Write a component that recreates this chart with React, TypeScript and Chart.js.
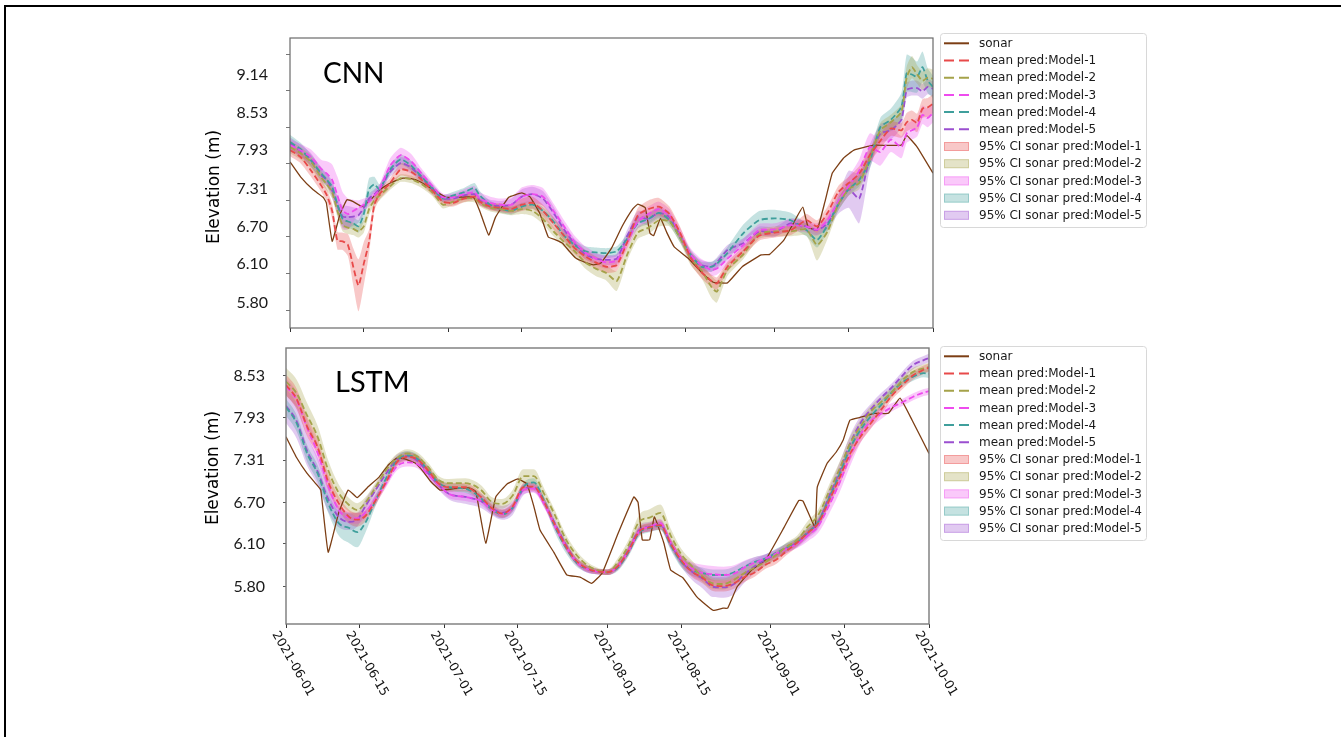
import React, { useEffect, useRef } from 'react';
import { Chart, registerables } from 'chart.js';

Chart.register(...registerables);

// ---------------- shared axis data ----------------
const xTickDays = [0, 14, 30, 44, 61, 75, 92, 106, 122];
const xTickLabels = ['2021-06-01', '2021-06-15', '2021-07-01', '2021-07-15', '2021-08-01', '2021-08-15', '2021-09-01', '2021-09-15', '2021-10-01'];

const modelNames = ['Model-1', 'Model-2', 'Model-3', 'Model-4', 'Model-5'];
const lineColors = ['#e84a4a', '#a5a24a', '#ee4bee', '#3f9f9c', '#9b4fd0'];
const bandColors = ['rgba(232,74,74,0.3)', 'rgba(165,162,74,0.3)', 'rgba(238,75,238,0.3)', 'rgba(63,159,156,0.3)', 'rgba(155,79,208,0.3)'];
const sonarColor = '#7c3e14';

// ---------------- CNN panel ----------------
const cnnTickLabels = ['9.14', '8.53', '7.93', '7.31', '6.70', '6.10', '5.80'];
const cnnTickAt = [9.14, 8.53, 7.93, 7.31, 6.70, 6.10, 5.47];
const cnnTickMarks = [9.48, 8.89, 8.30, 7.71, 7.12, 6.53, 5.94, 5.35];

const cnnDays = [
  0, 2, 4, 6, 7, 8, 9, 10, 11, 12,
  13, 14, 15, 16, 17, 19, 21, 23, 25, 27,
  29, 31, 33, 35, 36, 38, 40, 42, 44, 46,
  48, 50, 52, 54, 56, 58, 60, 62, 64, 66,
  68, 70, 72, 74, 76, 78, 80, 81, 83, 86,
  89, 92, 95, 98, 100, 102, 104, 106, 108, 110,
  112, 114, 116, 117, 118, 119, 120, 121, 122,
];
const cnnModel1 = [
  7.93, 7.82, 7.60, 7.35, 7.20, 6.95, 6.47, 6.46, 6.40, 6.05,
  5.75, 6.10, 6.45, 7.05, 7.22, 7.40, 7.62, 7.58, 7.45, 7.28,
  7.10, 7.08, 7.15, 7.18, 7.10, 7.02, 7.00, 6.98, 7.05, 7.08,
  6.95, 6.75, 6.55, 6.35, 6.22, 6.12, 6.05, 6.08, 6.45, 6.88,
  6.98, 7.02, 6.90, 6.60, 6.20, 5.97, 5.82, 5.78, 6.05, 6.30,
  6.55, 6.60, 6.64, 6.80, 6.70, 6.92, 7.25, 7.40, 7.55, 7.85,
  8.08, 8.28, 8.25, 8.38, 8.42, 8.37, 8.60, 8.62, 8.68,
];
const cnnModel2 = [
  7.98, 7.88, 7.74, 7.48, 7.38, 7.25, 6.95, 6.72, 6.68, 6.66,
  6.62, 6.70, 6.98, 7.12, 7.20, 7.35, 7.48, 7.46, 7.38, 7.25,
  7.05, 7.10, 7.15, 7.15, 7.08, 7.00, 6.98, 6.95, 6.98, 6.95,
  6.82, 6.62, 6.45, 6.30, 6.12, 6.02, 5.95, 5.82, 6.25, 6.60,
  6.68, 6.80, 6.78, 6.52, 6.18, 6.00, 5.72, 5.65, 6.00, 6.25,
  6.58, 6.62, 6.62, 6.65, 6.40, 6.62, 7.05, 7.30, 7.40, 7.80,
  8.25, 8.38, 8.55, 9.10, 9.27, 9.15, 9.05, 9.10, 9.08,
];
const cnnModel3 = [
  8.01, 7.93, 7.82, 7.62, 7.55, 7.45, 7.20, 6.95, 6.90, 6.95,
  7.00, 7.05, 7.10, 7.20, 7.30, 7.68, 7.85, 7.75, 7.55, 7.35,
  7.17, 7.17, 7.22, 7.25, 7.15, 7.08, 7.05, 7.05, 7.18, 7.22,
  7.18, 6.95, 6.70, 6.45, 6.28, 6.18, 6.12, 6.15, 6.45, 6.78,
  6.90, 6.98, 6.88, 6.58, 6.25, 6.08, 6.00, 6.02, 6.18, 6.40,
  6.64, 6.65, 6.72, 6.70, 6.65, 6.80, 7.10, 7.35, 7.60, 7.98,
  7.90, 8.10, 7.98, 8.20, 8.25, 8.30, 8.50, 8.45, 8.53,
];
const cnnModel4 = [
  8.06, 7.95, 7.76, 7.55, 7.45, 7.34, 7.05, 6.82, 6.78, 6.75,
  6.70, 6.90, 7.30, 7.38, 7.30, 7.62, 7.78, 7.68, 7.50, 7.32,
  7.15, 7.20, 7.25, 7.32, 7.20, 7.05, 6.98, 6.95, 7.02, 7.05,
  6.95, 6.78, 6.55, 6.40, 6.30, 6.28, 6.27, 6.30, 6.50, 6.75,
  6.82, 6.92, 6.80, 6.52, 6.25, 6.05, 6.05, 6.10, 6.27, 6.59,
  6.80, 6.83, 6.80, 6.64, 6.48, 6.72, 7.05, 7.30, 7.45, 7.75,
  8.30, 8.42, 8.63, 9.17, 9.15, 9.11, 9.27, 9.05, 8.95,
];
const cnnModel5 = [
  8.04, 7.92, 7.78, 7.52, 7.45, 7.28, 7.05, 6.86, 6.85, 6.86,
  6.88, 7.00, 7.15, 7.22, 7.30, 7.58, 7.72, 7.65, 7.48, 7.30,
  7.15, 7.15, 7.20, 7.22, 7.12, 7.05, 7.03, 7.05, 7.18, 7.22,
  7.15, 6.92, 6.65, 6.42, 6.25, 6.18, 6.16, 6.18, 6.55, 6.85,
  6.82, 6.92, 6.85, 6.55, 6.22, 6.08, 6.05, 6.12, 6.32, 6.43,
  6.62, 6.61, 6.75, 6.70, 6.64, 6.75, 7.05, 7.30, 7.15, 7.82,
  8.20, 8.25, 8.42, 8.90, 8.93, 8.93, 8.88, 8.95, 8.92,
];
const cnnCi1 = [
  0.10, 0.10, 0.10, 0.10, 0.10, 0.12, 0.14, 0.14, 0.18, 0.30,
  0.42, 0.35, 0.20, 0.10, 0.08, 0.08, 0.10, 0.10, 0.08, 0.07,
  0.06, 0.06, 0.06, 0.06, 0.06, 0.06, 0.07, 0.07, 0.10, 0.10,
  0.10, 0.10, 0.10, 0.10, 0.10, 0.10, 0.10, 0.10, 0.10, 0.12,
  0.14, 0.14, 0.12, 0.10, 0.10, 0.10, 0.10, 0.10, 0.08, 0.08,
  0.08, 0.08, 0.08, 0.10, 0.10, 0.10, 0.10, 0.10, 0.12, 0.12,
  0.12, 0.12, 0.12, 0.15, 0.15, 0.15, 0.15, 0.15, 0.15,
];
const cnnCi2 = [
  0.10, 0.10, 0.10, 0.10, 0.10, 0.10, 0.10, 0.10, 0.10, 0.10,
  0.10, 0.10, 0.10, 0.08, 0.08, 0.06, 0.06, 0.06, 0.06, 0.06,
  0.06, 0.06, 0.06, 0.06, 0.06, 0.06, 0.07, 0.07, 0.08, 0.08,
  0.08, 0.08, 0.08, 0.08, 0.10, 0.12, 0.12, 0.16, 0.10, 0.10,
  0.10, 0.10, 0.08, 0.08, 0.10, 0.12, 0.18, 0.18, 0.10, 0.08,
  0.08, 0.08, 0.08, 0.10, 0.25, 0.12, 0.10, 0.10, 0.10, 0.12,
  0.12, 0.12, 0.12, 0.18, 0.18, 0.15, 0.15, 0.15, 0.15,
];
const cnnCi3 = [
  0.10, 0.10, 0.12, 0.15, 0.20, 0.25, 0.30, 0.30, 0.25, 0.18,
  0.12, 0.10, 0.08, 0.08, 0.08, 0.12, 0.12, 0.12, 0.08, 0.07,
  0.06, 0.06, 0.08, 0.10, 0.10, 0.10, 0.10, 0.12, 0.15, 0.15,
  0.14, 0.12, 0.10, 0.10, 0.10, 0.10, 0.10, 0.10, 0.10, 0.12,
  0.12, 0.12, 0.10, 0.10, 0.10, 0.10, 0.10, 0.10, 0.10, 0.10,
  0.10, 0.10, 0.10, 0.10, 0.10, 0.10, 0.12, 0.15, 0.18, 0.22,
  0.22, 0.20, 0.18, 0.15, 0.15, 0.15, 0.15, 0.15, 0.15,
];
const cnnCi4 = [
  0.12, 0.10, 0.10, 0.10, 0.10, 0.10, 0.10, 0.10, 0.10, 0.10,
  0.10, 0.12, 0.18, 0.12, 0.08, 0.08, 0.08, 0.08, 0.08, 0.07,
  0.06, 0.06, 0.07, 0.08, 0.07, 0.06, 0.06, 0.06, 0.06, 0.06,
  0.06, 0.06, 0.07, 0.08, 0.08, 0.08, 0.08, 0.08, 0.08, 0.08,
  0.08, 0.08, 0.08, 0.08, 0.08, 0.08, 0.08, 0.08, 0.10, 0.14,
  0.15, 0.14, 0.12, 0.10, 0.12, 0.10, 0.10, 0.10, 0.10, 0.12,
  0.15, 0.18, 0.22, 0.30, 0.28, 0.25, 0.25, 0.20, 0.18,
];
const cnnCi5 = [
  0.10, 0.10, 0.10, 0.10, 0.10, 0.12, 0.15, 0.18, 0.18, 0.15,
  0.12, 0.10, 0.08, 0.08, 0.08, 0.08, 0.10, 0.10, 0.08, 0.07,
  0.06, 0.06, 0.07, 0.08, 0.08, 0.08, 0.08, 0.10, 0.12, 0.12,
  0.12, 0.10, 0.08, 0.08, 0.08, 0.08, 0.08, 0.08, 0.10, 0.10,
  0.10, 0.10, 0.08, 0.08, 0.08, 0.08, 0.08, 0.08, 0.08, 0.08,
  0.08, 0.08, 0.08, 0.08, 0.08, 0.10, 0.15, 0.30, 0.40, 0.20,
  0.15, 0.15, 0.12, 0.12, 0.12, 0.12, 0.12, 0.12, 0.12,
];
const cnnSonarDays = [
  0, 2, 4.4, 6.3, 6.9, 8.0, 9.5, 10.8, 12, 13.7,
  15.5, 17, 19, 21.4, 23, 24.7, 27, 29.6, 32, 34.8,
  36, 37.7, 39, 41.5, 44, 45.5, 47.4, 49, 50.5, 51.7,
  53, 54.2, 56, 57.6, 59, 61, 63, 65, 66, 67.4,
  68.3, 69, 70.3, 71.5, 72.9, 75.5, 78.2, 80.3, 83, 85.8,
  89.4, 91, 93.7, 95.5, 97.3, 98.3, 100, 101.5, 102.9, 105,
  107, 110.8, 116, 117, 119, 122,
];
const cnnSonar = [
  7.74, 7.50, 7.29, 7.17, 7.08, 6.46, 6.90, 7.13, 7.10, 7.02,
  7.15, 7.29, 7.40, 7.48, 7.47, 7.42, 7.30, 7.17, 7.17, 7.17,
  6.95, 6.56, 6.85, 7.17, 7.24, 7.18, 6.91, 6.53, 6.48, 6.43,
  6.30, 6.19, 6.12, 6.08, 6.11, 6.35, 6.70, 6.98, 7.06, 7.00,
  6.59, 6.55, 6.83, 6.60, 6.37, 6.19, 5.95, 5.80, 5.79, 6.05,
  6.24, 6.25, 6.48, 6.75, 7.01, 6.69, 6.64, 7.10, 7.56, 7.80,
  7.93, 8.01, 8.01, 8.17, 7.98, 7.56,
];

// ---------------- LSTM panel ----------------
const lstmTickLabels = ['8.53', '7.93', '7.31', '6.70', '6.10', '5.80'];
const lstmTickAt = [8.53, 7.93, 7.31, 6.70, 6.10, 5.48];

const lstmDays = [
  0, 2, 4, 6, 8, 10, 12, 13.5, 15, 17,
  19, 21, 23, 25, 27, 29, 31, 34, 37, 39,
  41, 43, 45, 47, 49, 51, 53, 55, 57, 59,
  61, 63, 65, 67, 69, 71, 73, 75, 77, 79,
  81, 83, 85, 87, 89, 91, 93, 95, 97, 99,
  101, 103, 105, 107, 109, 111, 113, 115, 117, 119,
  121, 122,
];
const lstmModel1 = [
  8.40, 8.20, 7.80, 7.50, 7.00, 6.69, 6.49, 6.45, 6.50, 6.73,
  7.00, 7.28, 7.36, 7.32, 7.16, 6.97, 6.92, 6.92, 6.78, 6.62,
  6.54, 6.64, 6.92, 6.93, 6.70, 6.38, 6.08, 5.86, 5.75, 5.70,
  5.69, 5.78, 6.00, 6.28, 6.34, 6.37, 6.10, 5.86, 5.70, 5.61,
  5.50, 5.49, 5.53, 5.62, 5.69, 5.80, 5.87, 6.00, 6.12, 6.26,
  6.40, 6.72, 7.05, 7.40, 7.65, 7.85, 8.05, 8.25, 8.40, 8.54,
  8.62, 8.65,
];
const lstmModel2 = [
  8.45, 8.28, 7.96, 7.65, 7.17, 6.84, 6.66, 6.59, 6.69, 6.92,
  7.17, 7.34, 7.41, 7.36, 7.21, 7.02, 6.98, 6.98, 6.88, 6.71,
  6.68, 6.80, 7.08, 7.08, 6.82, 6.52, 6.18, 5.95, 5.80, 5.72,
  5.69, 5.84, 6.08, 6.42, 6.48, 6.55, 6.22, 5.95, 5.78, 5.63,
  5.53, 5.52, 5.58, 5.68, 5.76, 5.84, 5.94, 6.06, 6.16, 6.35,
  6.52, 6.85, 7.18, 7.55, 7.80, 8.02, 8.16, 8.30, 8.47, 8.59,
  8.64, 8.66,
];
const lstmModel3 = [
  8.38, 8.18, 7.78, 7.42, 6.95, 6.59, 6.48, 6.47, 6.55, 6.75,
  6.98, 7.22, 7.28, 7.25, 7.10, 6.95, 6.82, 6.78, 6.72, 6.60,
  6.53, 6.62, 6.88, 6.90, 6.68, 6.36, 6.08, 5.85, 5.74, 5.70,
  5.69, 5.78, 6.00, 6.28, 6.35, 6.40, 6.12, 5.88, 5.74, 5.68,
  5.66, 5.65, 5.67, 5.76, 5.83, 5.89, 5.96, 6.03, 6.10, 6.22,
  6.36, 6.65, 6.98, 7.36, 7.68, 7.88, 7.99, 8.08, 8.15, 8.23,
  8.29, 8.31,
];
const lstmModel4 = [
  8.08, 7.85, 7.41, 7.12, 6.69, 6.40, 6.33, 6.27, 6.40, 6.73,
  7.05, 7.30, 7.38, 7.33, 7.16, 6.98, 6.92, 6.90, 6.76, 6.60,
  6.53, 6.62, 6.92, 6.99, 6.72, 6.35, 6.06, 5.84, 5.74, 5.70,
  5.69, 5.76, 5.98, 6.26, 6.33, 6.36, 6.08, 5.84, 5.72, 5.68,
  5.65, 5.65, 5.69, 5.77, 5.84, 5.89, 5.97, 6.05, 6.13, 6.27,
  6.42, 6.75, 7.10, 7.48, 7.75, 7.95, 8.12, 8.30, 8.44, 8.52,
  8.57, 8.56,
];
const lstmModel5 = [
  8.10, 7.88, 7.45, 7.15, 6.75, 6.49, 6.42, 6.45, 6.64, 6.88,
  7.12, 7.32, 7.37, 7.30, 7.12, 6.95, 6.82, 6.78, 6.72, 6.62,
  6.55, 6.62, 6.88, 6.92, 6.70, 6.40, 6.10, 5.86, 5.74, 5.70,
  5.69, 5.78, 6.02, 6.30, 6.35, 6.38, 6.10, 5.85, 5.70, 5.60,
  5.48, 5.47, 5.52, 5.66, 5.78, 5.87, 5.95, 6.04, 6.12, 6.26,
  6.42, 6.78, 7.15, 7.55, 7.85, 8.05, 8.22, 8.37, 8.54, 8.69,
  8.76, 8.79,
];
const lstmCi1 = [
  0.15, 0.15, 0.14, 0.12, 0.12, 0.10, 0.10, 0.10, 0.08, 0.07,
  0.06, 0.06, 0.06, 0.06, 0.06, 0.06, 0.06, 0.06, 0.06, 0.06,
  0.06, 0.06, 0.06, 0.06, 0.06, 0.06, 0.06, 0.05, 0.05, 0.04,
  0.04, 0.05, 0.06, 0.06, 0.06, 0.06, 0.06, 0.07, 0.08, 0.08,
  0.08, 0.08, 0.08, 0.07, 0.06, 0.06, 0.06, 0.06, 0.06, 0.06,
  0.06, 0.08, 0.10, 0.10, 0.08, 0.08, 0.07, 0.06, 0.06, 0.06,
  0.06, 0.06,
];
const lstmCi2 = [
  0.20, 0.20, 0.18, 0.16, 0.14, 0.12, 0.10, 0.10, 0.08, 0.07,
  0.06, 0.06, 0.06, 0.06, 0.06, 0.06, 0.06, 0.07, 0.07, 0.07,
  0.07, 0.08, 0.10, 0.10, 0.08, 0.07, 0.07, 0.06, 0.05, 0.04,
  0.04, 0.06, 0.08, 0.10, 0.12, 0.12, 0.10, 0.08, 0.08, 0.08,
  0.08, 0.08, 0.08, 0.07, 0.06, 0.06, 0.06, 0.06, 0.06, 0.08,
  0.08, 0.10, 0.10, 0.10, 0.10, 0.08, 0.08, 0.07, 0.06, 0.06,
  0.06, 0.06,
];
const lstmCi3 = [
  0.12, 0.12, 0.12, 0.12, 0.12, 0.10, 0.08, 0.08, 0.08, 0.07,
  0.06, 0.06, 0.06, 0.06, 0.06, 0.06, 0.06, 0.06, 0.06, 0.06,
  0.06, 0.06, 0.06, 0.06, 0.06, 0.06, 0.06, 0.05, 0.05, 0.04,
  0.04, 0.05, 0.06, 0.06, 0.06, 0.06, 0.06, 0.07, 0.10, 0.12,
  0.12, 0.12, 0.12, 0.10, 0.08, 0.06, 0.06, 0.06, 0.06, 0.08,
  0.10, 0.12, 0.14, 0.14, 0.12, 0.10, 0.08, 0.06, 0.05, 0.05,
  0.05, 0.05,
];
const lstmCi4 = [
  0.12, 0.12, 0.12, 0.12, 0.14, 0.18, 0.22, 0.22, 0.15, 0.08,
  0.06, 0.06, 0.06, 0.06, 0.06, 0.06, 0.06, 0.06, 0.06, 0.06,
  0.06, 0.06, 0.06, 0.06, 0.06, 0.08, 0.08, 0.06, 0.05, 0.04,
  0.04, 0.05, 0.06, 0.06, 0.06, 0.06, 0.07, 0.08, 0.08, 0.08,
  0.08, 0.08, 0.08, 0.08, 0.07, 0.06, 0.06, 0.06, 0.06, 0.06,
  0.06, 0.06, 0.06, 0.06, 0.06, 0.06, 0.06, 0.06, 0.06, 0.06,
  0.06, 0.06,
];
const lstmCi5 = [
  0.25, 0.25, 0.22, 0.20, 0.18, 0.15, 0.12, 0.10, 0.10, 0.08,
  0.07, 0.07, 0.07, 0.07, 0.07, 0.07, 0.08, 0.10, 0.10, 0.10,
  0.10, 0.10, 0.08, 0.07, 0.07, 0.07, 0.06, 0.05, 0.05, 0.04,
  0.04, 0.05, 0.06, 0.07, 0.07, 0.07, 0.07, 0.08, 0.12, 0.14,
  0.15, 0.15, 0.15, 0.12, 0.10, 0.08, 0.07, 0.07, 0.07, 0.08,
  0.10, 0.12, 0.12, 0.12, 0.10, 0.08, 0.07, 0.06, 0.06, 0.06,
  0.06, 0.06,
];
const lstmSonarDays = [
  0, 2, 4, 5.9, 6.6, 8.0, 10, 11.8, 13.5, 15.5,
  17.7, 19.5, 21, 22.5, 24.5, 26, 27.5, 29.2, 32, 34.7,
  36, 37.9, 39.8, 42, 44, 45.7, 47, 48.2, 50.8, 53.3,
  55.8, 58, 60, 63, 66, 66.8, 67.6, 69, 69.9, 71.7,
  73, 75.3, 78, 81, 82.9, 83.8, 85.6, 88.3, 91, 94.5,
  97.3, 98.1, 100.4, 100.8, 102.7, 104.4, 105.7, 107, 108.9, 111.6,
  114.3, 116.5, 118.8, 122,
];
const lstmSonar = [
  7.65, 7.35, 7.12, 6.95, 6.88, 5.98, 6.55, 6.88, 6.77, 6.92,
  7.07, 7.25, 7.34, 7.33, 7.27, 7.15, 7.00, 6.88, 6.90, 6.91,
  6.86, 6.11, 6.78, 6.97, 7.04, 6.97, 6.65, 6.30, 5.98, 5.65,
  5.62, 5.53, 5.68, 6.25, 6.78, 6.70, 6.16, 6.16, 6.49, 6.11,
  5.72, 5.61, 5.33, 5.14, 5.17, 5.17, 5.48, 5.72, 5.87, 6.34,
  6.73, 6.72, 6.34, 6.92, 7.27, 7.43, 7.60, 7.89, 7.93, 7.99,
  7.99, 8.21, 7.89, 7.41,
];

// ---------------- helpers ----------------
const pts = (days: number[], vals: number[]) => days.map((d, i) => ({ x: d, y: vals[i] }));

function buildDatasets(days: number[], means: number[][], cis: number[][], sDays: number[], sVals: number[], smooth: any) {
  const ds: any[] = [];
  means.forEach((m, i) => {
    ds.push({
      label: 'lo-' + i,
      data: days.map((d, k) => ({ x: d, y: m[k] - cis[i][k] })),
      borderWidth: 0, borderColor: 'rgba(0,0,0,0)', pointRadius: 0, fill: false, order: 3, ...smooth,
    });
    ds.push({
      label: '95% CI sonar pred:' + modelNames[i],
      data: days.map((d, k) => ({ x: d, y: m[k] + cis[i][k] })),
      borderWidth: 0, borderColor: 'rgba(0,0,0,0)', backgroundColor: bandColors[i], pointRadius: 0, fill: '-1', order: 3, ...smooth,
    });
  });
  ds.push({ label: 'sonar', data: pts(sDays, sVals), borderColor: sonarColor, borderWidth: 1.3, pointRadius: 0, fill: false, tension: 0.1, order: 2 });
  means.forEach((m, i) => {
    ds.push({
      label: 'mean pred:' + modelNames[i], data: pts(days, m), borderColor: lineColors[i], borderWidth: 1.8,
      borderDash: [6, 3], pointRadius: 0, fill: false, order: 1, ...smooth,
    });
  });
  return ds;
}

const legendItems = [
  { text: 'sonar', kind: 'line', color: sonarColor, edge: '' },
  ...modelNames.map((n, i) => ({ text: 'mean pred:' + n, kind: 'dash', color: lineColors[i], edge: '' })),
  ...modelNames.map((n, i) => ({ text: '95% CI sonar pred:' + n, kind: 'rect', color: bandColors[i], edge: lineColors[i] })),
];

function roundRectPath(ctx: CanvasRenderingContext2D, x: number, y: number, w: number, h: number, r: number) {
  ctx.moveTo(x + r, y);
  ctx.lineTo(x + w - r, y);
  ctx.arcTo(x + w, y, x + w, y + r, r);
  ctx.lineTo(x + w, y + h - r);
  ctx.arcTo(x + w, y + h, x + w - r, y + h, r);
  ctx.lineTo(x + r, y + h);
  ctx.arcTo(x, y + h, x, y + h - r, r);
  ctx.lineTo(x, y + r);
  ctx.arcTo(x, y, x + r, y, r);
  ctx.closePath();
}

function drawLegend(ctx: CanvasRenderingContext2D, x: number, y: number) {
  ctx.save();
  ctx.beginPath();
  roundRectPath(ctx, x + 0.5, y + 0.5, 206, 194, 3);
  ctx.fillStyle = 'rgba(255,255,255,0.85)';
  ctx.fill();
  ctx.strokeStyle = '#d8d8d8';
  ctx.lineWidth = 1;
  ctx.stroke();
  ctx.font = '12px "DejaVu Sans"';
  ctx.textAlign = 'left';
  ctx.textBaseline = 'middle';
  legendItems.forEach((it, i) => {
    const cy = y + 10.3 + i * 17.2;
    const sx = x + 4;
    if (it.kind === 'rect') {
      ctx.fillStyle = it.color;
      ctx.fillRect(sx, cy - 4.5, 25, 9);
      ctx.globalAlpha = 0.35;
      ctx.strokeStyle = it.edge;
      ctx.strokeRect(sx + 0.5, cy - 4, 24, 8);
      ctx.globalAlpha = 1;
    } else {
      ctx.beginPath();
      ctx.setLineDash(it.kind === 'dash' ? [10, 5] : []);
      ctx.strokeStyle = it.color;
      ctx.lineWidth = 2;
      ctx.moveTo(sx, cy);
      ctx.lineTo(sx + 25, cy);
      ctx.stroke();
      ctx.setLineDash([]);
      ctx.lineWidth = 1;
    }
    ctx.fillStyle = '#1a1a1a';
    ctx.fillText(it.text, x + 39, cy + 0.5);
  });
  ctx.restore();
}

type PanelCfg = {
  name: string; top: number; height: number;
  days: number[]; means: number[][]; cis: number[][]; sonarDays: number[]; sonar: number[]; smooth: any;
  yMin: number; yMax: number; tickAt: number[]; tickLabels: string[]; tickMarks: number[] | null;
  pad: { left: number; right: number; top: number; bottom: number };
  labelAxisWidth: number; labelPad: number; yTickLen: number;
  nameDx: number; nameDy: number; nameSize: number;
  titleX: number; titleY: number;
  legendX: number; legendY: number;
  frameColor: string; frameWidth: number;
  xLabels: boolean; xLabelShift: number;
};

const panels: PanelCfg[] = [
  {
    name: 'CNN', top: 0, height: 342,
    days: cnnDays, means: [cnnModel1, cnnModel2, cnnModel3, cnnModel4, cnnModel5],
    cis: [cnnCi1, cnnCi2, cnnCi3, cnnCi4, cnnCi5], sonarDays: cnnSonarDays, sonar: cnnSonar, smooth: { tension: 0.2 },
    yMin: 5.062, yMax: 9.739, tickAt: cnnTickAt, tickLabels: cnnTickLabels, tickMarks: cnnTickMarks,
    pad: { left: 226, right: 408, top: 38, bottom: 8 },
    labelAxisWidth: 60, labelPad: 10, yTickLen: 0,
    nameDx: 33, nameDy: 45, nameSize: 28,
    titleX: 215, titleY: 187,
    legendX: 940, legendY: 33,
    frameColor: '#6a6a6a', frameWidth: 1.2,
    xLabels: false, xLabelShift: 0,
  },
  {
    name: 'LSTM', top: 342, height: 395,
    days: lstmDays, means: [lstmModel1, lstmModel2, lstmModel3, lstmModel4, lstmModel5],
    cis: [lstmCi1, lstmCi2, lstmCi3, lstmCi4, lstmCi5], sonarDays: lstmSonarDays, sonar: lstmSonar,
    smooth: { cubicInterpolationMode: 'monotone' },
    yMin: 4.941, yMax: 8.935, tickAt: lstmTickAt, tickLabels: lstmTickLabels, tickMarks: null,
    pad: { left: 216, right: 412, top: 6, bottom: 107 },
    labelAxisWidth: 70, labelPad: 18, yTickLen: 3,
    nameDx: 49, nameDy: 44, nameSize: 29,
    titleX: 214, titleY: 126,
    legendX: 940, legendY: 4,
    frameColor: '#7a7a7a', frameWidth: 1.4,
    xLabels: true, xLabelShift: 7,
  },
];

function makeDecor(p: PanelCfg) {
  return {
    id: 'decor-' + p.name,
    afterDraw(chart: any) {
      const ctx: CanvasRenderingContext2D = chart.ctx;
      const a = chart.chartArea;
      ctx.save();
      ctx.strokeStyle = p.frameColor;
      ctx.lineWidth = p.frameWidth;
      ctx.strokeRect(a.left, a.top, a.right - a.left, a.bottom - a.top);

      ctx.fillStyle = '#000';
      ctx.font = `${p.nameSize}px Lato`;
      ctx.textAlign = 'left';
      ctx.textBaseline = 'alphabetic';
      ctx.fillText(p.name, a.left + p.nameDx, a.top + p.nameDy);

      ctx.save();
      ctx.translate(p.titleX, p.titleY);
      ctx.rotate(-Math.PI / 2);
      ctx.font = '17px "DejaVu Sans"';
      ctx.textAlign = 'center';
      ctx.textBaseline = 'middle';
      ctx.fillStyle = '#000';
      ctx.fillText('Elevation (m)', 0, 0);
      ctx.restore();

      if (p.xLabels) {
        const xs = chart.scales.x;
        const th = Math.PI / 3;
        ctx.font = '12.5px "DejaVu Sans"';
        ctx.fillStyle = '#111';
        xs.ticks.forEach((t: any, i: number) => {
          const label = xTickLabels[i];
          const px = xs.getPixelForValue(t.value) + p.xLabelShift;
          const L = ctx.measureText(label).width;
          const h = 9.5;
          const dy = L * Math.sin(th) + h * Math.cos(th);
          ctx.save();
          ctx.translate(px, a.bottom + 6 + dy / 2);
          ctx.rotate(th);
          ctx.textAlign = 'center';
          ctx.textBaseline = 'middle';
          ctx.fillText(label, 0, 0);
          ctx.restore();
        });
      }
      drawLegend(ctx, p.legendX, p.legendY);
      ctx.restore();
    },
  };
}

function makeConfig(p: PanelCfg): any {
  const scales: any = {
    x: {
      type: 'linear', min: 0, max: 122, bounds: 'data',
      afterBuildTicks: (s: any) => { s.ticks = xTickDays.map((v) => ({ value: v })); },
      ticks: { display: false },
      grid: { display: true, drawOnChartArea: false, drawTicks: true, tickLength: 4, color: '#333', lineWidth: 1 },
      border: { display: false },
      afterFit: (s: any) => { s.height = 6; },
    },
    y: {
      type: 'linear', position: 'left', weight: 1, min: p.yMin, max: p.yMax, bounds: 'data',
      afterBuildTicks: (s: any) => { s.ticks = p.tickAt.map((v) => ({ value: v })); },
      ticks: {
        autoSkip: false, padding: p.labelPad, color: '#1a1a1a',
        font: { family: 'Lato', size: 16 },
        callback: (_v: any, i: number) => p.tickLabels[i],
      },
      grid: p.yTickLen > 0
        ? { display: true, drawOnChartArea: false, drawTicks: true, tickLength: p.yTickLen, color: '#555' }
        : { display: false },
      border: { display: false },
      afterFit: (s: any) => { s.width = p.labelAxisWidth; s.paddingTop = 0; s.paddingBottom = 0; },
    },
  };
  if (p.tickMarks) {
    const marks = p.tickMarks;
    scales.yt = {
      type: 'linear', position: 'left', weight: 0, min: p.yMin, max: p.yMax, bounds: 'data',
      afterBuildTicks: (s: any) => { s.ticks = marks.map((v) => ({ value: v })); },
      ticks: { display: false },
      grid: { display: true, drawOnChartArea: false, drawTicks: true, tickLength: 4, color: '#777' },
      border: { display: false },
      afterFit: (s: any) => { s.width = 4; s.paddingTop = 0; s.paddingBottom = 0; },
    };
  }
  return {
    type: 'line',
    data: { datasets: buildDatasets(p.days, p.means, p.cis, p.sonarDays, p.sonar, p.smooth) },
    options: {
      animation: false,
      responsive: false,
      maintainAspectRatio: false,
      events: [],
      layout: { padding: p.pad },
      plugins: { legend: { display: false }, tooltip: { enabled: false }, title: { display: false } },
      scales,
    },
    plugins: [makeDecor(p)],
  };
}

function PanelChart({ p }: { p: PanelCfg }) {
  const ref = useRef<HTMLCanvasElement>(null);
  useEffect(() => {
    if (!ref.current) return;
    const chart = new Chart(ref.current, makeConfig(p));
    return () => chart.destroy();
  }, [p]);
  return (
    <canvas
      ref={ref}
      width={1341}
      height={p.height}
      style={{ position: 'absolute', left: 0, top: p.top, width: 1341, height: p.height }}
    />
  );
}

export default function App() {
  return (
    <div style={{ position: 'absolute', left: 0, top: 0, width: 1341, height: 737, overflow: 'hidden', background: '#fff' }}>
      <div style={{ position: 'absolute', left: 4, top: 5, width: 1400, height: 800, borderLeft: '2px solid #000', borderTop: '2px solid #000' }} />
      {panels.map((p) => <PanelChart key={p.name} p={p} />)}
    </div>
  );
}
